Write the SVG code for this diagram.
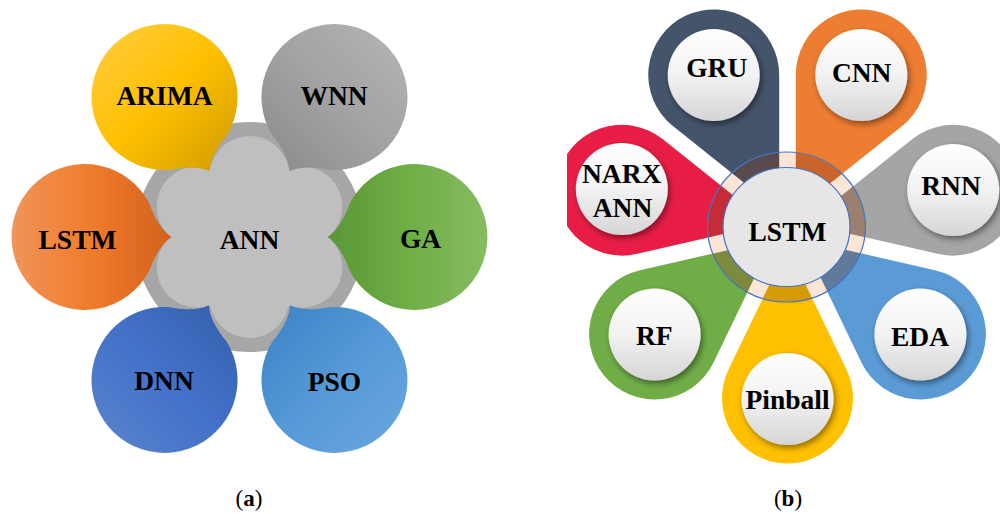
<svg xmlns="http://www.w3.org/2000/svg" width="1000" height="514" viewBox="0 0 1000 514">
<style>
  .lbl{font-family:"Liberation Serif","Times New Roman",serif;font-weight:bold;font-size:27.5px;fill:#000;text-anchor:middle}
  .cap{font-family:"Liberation Serif","Times New Roman",serif;font-size:23px;fill:#000;text-anchor:middle}
  .hub-line{fill:none;stroke:#4472c4;stroke-width:1.2}
  .knob{fill:url(#knob);filter:url(#shadow)}
  .lobe{fill:#bfbfbf}
</style>
<defs>
  <!-- speech bubble: circle r=73 with a pointed tail along +x -->
  <path id="bubble" d="M64.5,-34.3 Q74,-8 87,0 Q74,8 64.5,34.3 A73,73 0 1 1 64.5,-34.3 Z"/>
  <!-- pin-shaped petal: apex near the hub, round head of r=65.46 centred at x=170 -->
  <path id="petal" d="M19.13,0 L141.6,58.98 A65.46,65.46 0 1 0 141.6,-58.98 Z"/>

  <linearGradient id="gArima" gradientUnits="userSpaceOnUse" x1="-73" y1="-73" x2="73" y2="73" gradientTransform="rotate(-58.73)">
    <stop offset="0" stop-color="#ffcd45"/><stop offset="0.5" stop-color="#ffc000"/><stop offset="1" stop-color="#cf9b00"/>
  </linearGradient>
  <linearGradient id="gWnn" gradientUnits="userSpaceOnUse" x1="73" y1="-73" x2="-73" y2="73" gradientTransform="rotate(-121.27)">
    <stop offset="0" stop-color="#b5b5b5"/><stop offset="0.5" stop-color="#a3a3a3"/><stop offset="1" stop-color="#8a8a8a"/>
  </linearGradient>
  <linearGradient id="gLstm" gradientUnits="userSpaceOnUse" x1="-73" y1="0" x2="87" y2="0">
    <stop offset="0" stop-color="#f09559"/><stop offset="0.5" stop-color="#ef7b2b"/><stop offset="1" stop-color="#d4611c"/>
  </linearGradient>
  <linearGradient id="gGa" gradientUnits="userSpaceOnUse" x1="-87" y1="0" x2="73" y2="0" gradientTransform="rotate(-180)">
    <stop offset="0" stop-color="#5a9637"/><stop offset="0.5" stop-color="#6fae44"/><stop offset="1" stop-color="#86bc61"/>
  </linearGradient>
  <linearGradient id="gDnn" gradientUnits="userSpaceOnUse" x1="73" y1="-73" x2="-73" y2="73" gradientTransform="rotate(59.27)">
    <stop offset="0" stop-color="#335fab"/><stop offset="0.5" stop-color="#4372c9"/><stop offset="1" stop-color="#5a84cd"/>
  </linearGradient>
  <linearGradient id="gPso" gradientUnits="userSpaceOnUse" x1="-73" y1="-73" x2="73" y2="73" gradientTransform="rotate(120.73)">
    <stop offset="0" stop-color="#3b82c5"/><stop offset="0.5" stop-color="#5599d6"/><stop offset="1" stop-color="#6ba7df"/>
  </linearGradient>

  <linearGradient id="knob" x1="0" y1="0" x2="0" y2="1">
    <stop offset="0" stop-color="#ffffff"/><stop offset="0.5" stop-color="#f2f2f2"/><stop offset="1" stop-color="#d5d5d5"/>
  </linearGradient>
  <filter id="shadow" x="-30%" y="-30%" width="160%" height="160%">
    <feGaussianBlur in="SourceAlpha" stdDeviation="3"/>
    <feOffset dx="2" dy="3"/>
    <feComponentTransfer><feFuncA type="linear" slope="0.45"/></feComponentTransfer>
    <feMerge><feMergeNode/><feMergeNode in="SourceGraphic"/></feMerge>
  </filter>

  <clipPath id="panelB"><rect x="567" y="0" width="433" height="514"/></clipPath>
  <clipPath id="ringClip">
    <path clip-rule="evenodd" d="M707.5,227 a79,75 0 1,0 158,0 a79,75 0 1,0 -158,0 Z M723,227 a63.5,59.5 0 1,0 127,0 a63.5,59.5 0 1,0 -127,0 Z"/>
  </clipPath>
</defs>

<rect width="1000" height="514" fill="#ffffff"/>

<!-- (a) ANN hub with six satellite bubbles -->
<g id="ann">
  <circle cx="249.5" cy="237" r="115" fill="#a6a6a6"/>
  <circle class="lobe" cx="249.5" cy="237" r="80"/>
  <circle class="lobe" cx="249.5" cy="176" r="40"/>
  <circle class="lobe" cx="302.3" cy="206.5" r="40"/>
  <circle class="lobe" cx="302.3" cy="267.5" r="40"/>
  <circle class="lobe" cx="249.5" cy="298" r="40"/>
  <circle class="lobe" cx="196.7" cy="267.5" r="40"/>
  <circle class="lobe" cx="196.7" cy="206.5" r="40"/>
  <text class="lbl" x="249.5" y="249">ANN</text>
</g>
<g id="arima">
  <use href="#bubble" transform="translate(164.5,97) rotate(58.73)" fill="url(#gArima)"/>
  <text class="lbl" x="164.5" y="105">ARIMA</text>
</g>
<g id="wnn">
  <use href="#bubble" transform="translate(334.5,97) rotate(121.27)" fill="url(#gWnn)"/>
  <text class="lbl" x="334" y="105">WNN</text>
</g>
<g id="lstm-a">
  <use href="#bubble" transform="translate(84.5,237)" fill="url(#gLstm)"/>
  <text class="lbl" x="77.5" y="249">LSTM</text>
</g>
<g id="ga">
  <use href="#bubble" transform="translate(414.5,237) rotate(180)" fill="url(#gGa)"/>
  <text class="lbl" x="420.5" y="248">GA</text>
</g>
<g id="dnn">
  <use href="#bubble" transform="translate(164.5,380) rotate(-59.27)" fill="url(#gDnn)"/>
  <text class="lbl" x="164" y="390">DNN</text>
</g>
<g id="pso">
  <use href="#bubble" transform="translate(334.5,380) rotate(-120.73)" fill="url(#gPso)"/>
  <text class="lbl" x="334.5" y="391">PSO</text>
</g>
<text class="cap" x="249" y="506">(<tspan font-weight="bold">a</tspan>)</text>

<!-- (b) LSTM hub with seven pin petals -->
<g clip-path="url(#panelB)">
  <g id="gru">
    <use href="#petal" transform="translate(787.5,228) rotate(-115.714)" fill="#44546a"/>
    <circle class="knob" cx="713.7" cy="75" r="46"/>
    <text class="lbl" x="716.7" y="77">GRU</text>
  </g>
  <g id="cnn">
    <use href="#petal" transform="translate(787.5,228) rotate(-64.286)" fill="#ed7d31"/>
    <circle class="knob" cx="861.3" cy="75" r="46"/>
    <text class="lbl" x="861.7" y="81.5">CNN</text>
  </g>
  <g id="rnn">
    <use href="#petal" transform="translate(787.5,228) rotate(-12.857)" fill="#a5a5a5"/>
    <circle class="knob" cx="953.2" cy="190" r="46"/>
    <text class="lbl" x="951" y="195">RNN</text>
  </g>
  <g id="eda">
    <use href="#petal" transform="translate(787.5,228) rotate(38.571)" fill="#5b9bd5"/>
    <circle class="knob" cx="920.4" cy="334.5" r="46"/>
    <text class="lbl" x="920" y="346">EDA</text>
  </g>
  <g id="pinball">
    <use href="#petal" transform="translate(787.5,228) rotate(90)" fill="#ffc000"/>
    <circle class="knob" cx="787.5" cy="399" r="46"/>
    <text class="lbl" x="787.5" y="409">Pinball</text>
  </g>
  <g id="rf">
    <use href="#petal" transform="translate(787.5,228) rotate(141.429)" fill="#70ad47"/>
    <circle class="knob" cx="654.6" cy="334.5" r="46"/>
    <text class="lbl" x="654.3" y="345">RF</text>
  </g>
  <g id="narx-ann">
    <use href="#petal" transform="translate(787.5,228) rotate(-167.143)" fill="#e81d45"/>
    <circle class="knob" cx="621.8" cy="189" r="46"/>
    <text class="lbl" x="621.7" y="183">NARX</text>
    <text class="lbl" x="622.5" y="217">ANN</text>
  </g>

  <g id="lstm-b">
    <g clip-path="url(#ringClip)">
      <rect x="700" y="145" width="175" height="165" fill="#fbe5d6"/>
      <use href="#petal" transform="translate(787.5,228) rotate(-115.714)" fill="#594b4d"/>
      <use href="#petal" transform="translate(787.5,228) rotate(-64.286)" fill="#c9652b"/>
      <use href="#petal" transform="translate(787.5,228) rotate(-12.857)" fill="#9b806f"/>
      <use href="#petal" transform="translate(787.5,228) rotate(38.571)" fill="#617a9b"/>
      <use href="#petal" transform="translate(787.5,228) rotate(90)" fill="#d49b05"/>
      <use href="#petal" transform="translate(787.5,228) rotate(141.429)" fill="#7b8b3b"/>
      <use href="#petal" transform="translate(787.5,228) rotate(-167.143)" fill="#c62b38"/>
    </g>
    <ellipse class="hub-line" cx="786.5" cy="227" rx="79" ry="75"/>
    <ellipse cx="786.5" cy="227" rx="63.5" ry="59.5" fill="#e6e6e6" stroke="#4472c4" stroke-width="1.2"/>
    <text class="lbl" x="787.5" y="241">LSTM</text>
  </g>
</g>
<text class="cap" x="788" y="506">(<tspan font-weight="bold">b</tspan>)</text>
</svg>
